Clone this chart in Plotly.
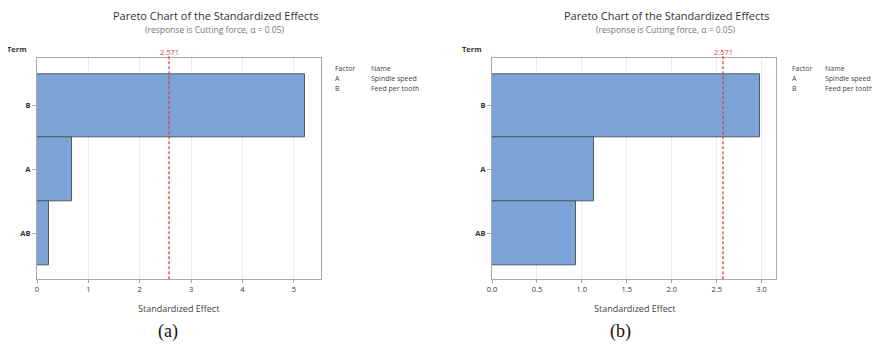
import plotly.graph_objects as go

terms = ["B", "A", "AB"]
effects_a = [5.22, 0.69, 0.23]
effects_b = [2.98, 1.14, 0.93]
critical = 2.571
factor_codes = ["A", "B"]
factor_names = ["Spindle speed", "Feed per tooth"]
title_text = "Pareto Chart of the Standardized Effects"
subtitle_text = "(response is Cutting force, α = 0.05)"
xtitle = "Standardized Effect"
panel_labels = ["(a)", "(b)"]

# page body has an 8px default margin; size the figure to fit the window
OFF = 8
W, H = 880 - OFF, 349 - OFF
def px(x):
    return (x - OFF) / W
def py(y):
    return 1 - (y - OFF) / H

BAR = "#7BA3D5"
EDGE = "#4F5A66"
FRAME = "#A8A8A8"
RED = "#E0403A"
FONT = "Open Sans"

fig = go.Figure()
fig.add_trace(go.Bar(y=terms, x=effects_a, orientation="h", xaxis="x", yaxis="y",
                     marker=dict(color=BAR, line=dict(color=EDGE, width=1)), width=1,
                     showlegend=False, hoverinfo="skip"))
fig.add_trace(go.Bar(y=terms, x=effects_b, orientation="h", xaxis="x2", yaxis="y2",
                     marker=dict(color=BAR, line=dict(color=EDGE, width=1)), width=1,
                     showlegend=False, hoverinfo="skip"))

ydom = [py(279.3), py(58.3)]
common_x = dict(showline=True, linecolor=FRAME, linewidth=1, mirror=True, automargin=False,
                showgrid=True, gridcolor="#EBEBEB", gridwidth=1, zeroline=False,
                ticks="outside", ticklen=3, tickcolor=FRAME,
                tickfont=dict(family=FONT, size=7.5, color="#333333"))
common_y = dict(showline=True, linecolor=FRAME, linewidth=1, mirror=True, automargin=False,
                showgrid=False, zeroline=False, type="category",
                categoryorder="array", categoryarray=["AB", "A", "B"],
                range=[-0.724, 2.746],
                ticks="outside", ticklen=4, tickcolor=FRAME,
                tickfont=dict(family=FONT, size=7.5, color="#333333", weight="bold"))

fig.update_layout(
    width=W, height=H, margin=dict(l=0, r=0, t=0, b=0, autoexpand=False),
    paper_bgcolor="white", plot_bgcolor="white", bargap=0,
    xaxis=dict(domain=[px(37), px(321)], range=[0, 5.53], dtick=1, tick0=0, anchor="y", **common_x),
    yaxis=dict(domain=ydom, anchor="x", **common_y),
    xaxis2=dict(domain=[px(492), px(776)], range=[0, 3.16], dtick=0.5, tick0=0, tickformat=".1f", anchor="y2", **common_x),
    yaxis2=dict(domain=ydom, anchor="x2", **common_y),
)

def note(x, y, text, size, color, family=FONT, xanchor="center"):
    fig.add_annotation(x=px(x), y=py(y), xref="paper", yref="paper", text=text,
                       xanchor=xanchor, yanchor="middle", showarrow=False,
                       font=dict(family=family, size=size, color=color))

panels = [("x", "y", 215, 17, 178, 168), ("x2", "y2", 666, 472, 634, 620)]
legend_x = [(333, 369), (790, 823)]
for i, (xa, ya, tcx, termx, xtc, labx) in enumerate(panels):
    fig.add_shape(type="line", xref=xa, yref=f"{ya} domain", x0=critical, x1=critical, y0=0, y1=1.01,
                  line=dict(color=RED, width=1.3, dash="3px,2px"))
    fig.add_annotation(x=critical, xref=xa, y=py(52), yref="paper", text=f"{critical:.3f}",
                       xanchor="center", showarrow=False, font=dict(family=FONT, size=7.5, color=RED), yanchor="middle")
    note(tcx, 16, title_text, 11, "#333333")
    note(tcx, 29.5, subtitle_text, 8.5, "#777777")
    note(termx, 49, "<b>Term</b>", 7.5, "#333333")
    note(xtc, 308, xtitle, 9, "#444444")
    fx, nx = legend_x[i]
    rows = [("Factor", "Name")] + list(zip(factor_codes, factor_names))
    for j, (c, n) in enumerate(rows):
        note(fx, 68 + j * 10, c, 7, "#444444", xanchor="left")
        note(nx, 68 + j * 10, n, 7, "#444444", xanchor="left")
    note(labx, 331, panel_labels[i], 18, "#111111", family="Liberation Serif")

fig.write_html("out.html")
